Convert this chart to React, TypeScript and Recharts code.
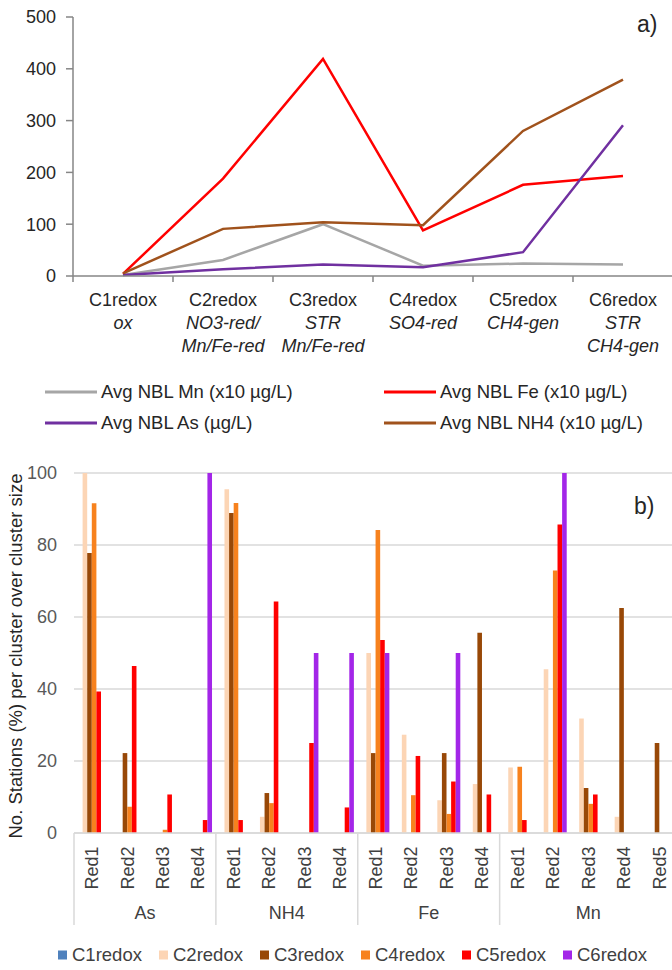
import React from 'react';
import { LineChart, Line, XAxis, YAxis, BarChart, Bar, CartesianGrid } from 'recharts';

const FONT = '"Liberation Sans", Arial, sans-serif';

// ---------- Panel a) data ----------
const clusters = ['C1redox', 'C2redox', 'C3redox', 'C4redox', 'C5redox', 'C6redox'];
const clusterSub = [['ox'], ['NO3-red/', 'Mn/Fe-red'], ['STR', 'Mn/Fe-red'], ['SO4-red'], ['CH4-gen'], ['STR', 'CH4-gen']];
const avgMn = [2, 31, 100, 20, 24, 22];
const avgFe = [4, 188, 419, 88, 176, 193];
const avgAs = [2, 13, 22, 17, 46, 291];
const avgNH4 = [5, 91, 104, 98, 280, 379];
const topTicks = [0, 100, 200, 300, 400, 500];

const lineNames = ['Avg NBL Mn (x10 µg/L)', 'Avg NBL Fe (x10 µg/L)', 'Avg NBL As (µg/L)', 'Avg NBL NH4 (x10 µg/L)'];
const lineKeys = ['mn', 'fe', 'as', 'nh4'];
const lineColors = ['#A6A6A6', '#FF0000', '#7030A0', '#A0521C'];

const topData = clusters.map((c, i) => ({ cluster: c, mn: avgMn[i], fe: avgFe[i], as: avgAs[i], nh4: avgNH4[i] }));

// ---------- Panel b) data ----------
const elements = ['As', 'NH4', 'Fe', 'Mn'];
const elementReds = [
  ['Red1', 'Red2', 'Red3', 'Red4'],
  ['Red1', 'Red2', 'Red3', 'Red4'],
  ['Red1', 'Red2', 'Red3', 'Red4'],
  ['Red1', 'Red2', 'Red3', 'Red4', 'Red5'],
];
const barSeries = ['C1redox', 'C2redox', 'C3redox', 'C4redox', 'C5redox', 'C6redox'];
const barColors = ['#4F81BD', '#FCD5B5', '#984807', '#F7821E', '#FF0000', '#A326E8'];
const c1redox = [0, 0, 0, 0, 0, 0, 0, 0, 0, 0, 0, 0, 0, 0, 0, 0, 0];
const c2redox = [100, 0, 0, 0, 95.5, 4.5, 0, 0, 50, 27.3, 9.1, 13.6, 18.2, 45.5, 31.8, 4.5, 0];
const c3redox = [77.8, 22.2, 0, 0, 88.9, 11.1, 0, 0, 22.2, 0, 22.2, 55.6, 0, 0, 12.5, 62.5, 25];
const c4redox = [91.6, 7.3, 0.9, 0, 91.7, 8.3, 0, 0, 84.2, 10.5, 5.3, 0, 18.4, 72.9, 8.1, 0, 0];
const c5redox = [39.3, 46.4, 10.7, 3.6, 3.6, 64.3, 25, 7.1, 53.6, 21.4, 14.3, 10.7, 3.6, 85.7, 10.7, 0, 0];
const c6redox = [0, 0, 0, 100, 0, 0, 50, 50, 50, 0, 50, 0, 0, 100, 0, 0, 0];
const barValues = [c1redox, c2redox, c3redox, c4redox, c5redox, c6redox];
const bottomTicks = [0, 20, 40, 60, 80, 100];

type Row = { [k: string]: any };
const barData: Row[] = [];
elements.forEach((el, g) => {
  elementReds[g].forEach((r, k) => {
    const idx = barData.length;
    const row: Row = { id: `${el}-${r}`, group: el, red: r, first: k === 0, size: elementReds[g].length };
    barSeries.forEach((s, si) => { row[s] = barValues[si][idx]; });
    barData.push(row);
  });
});

// ---------- layout ----------
const TOP_W = 690, TOP_H = 360, TOP_PLOT_L = 73, TOP_PLOT_R = 673, TOP_PLOT_T = 17, TOP_XAXIS_H = 84;
const TOP_BAND = (TOP_PLOT_R - TOP_PLOT_L) / clusters.length;

const BOT_TOP = 440, BOT_W = 690, BOT_H = 500, BOT_PLOT_L = 74, BOT_PLOT_R = 677, BOT_PLOT_T = 33, BOT_XAXIS_H = 107;
const BOT_BAND = (BOT_PLOT_R - BOT_PLOT_L) / barData.length;

const AXIS_DARK = '#868686';
const GRID = '#D9D9D9';

const TopTick = (props: any) => {
  const { x, y, payload } = props;
  const i = payload.index;
  const half = TOP_BAND / 2;
  return (
    <g fontFamily={FONT} fontSize={18} fill="#262626">
      <line x1={x - half} x2={x - half} y1={y} y2={y + 6} stroke={AXIS_DARK} strokeWidth={1.5} />
      {i === clusters.length - 1 && <line x1={x + half} x2={x + half} y1={y} y2={y + 6} stroke={AXIS_DARK} strokeWidth={1.5} />}
      <text x={x} y={y + 30} textAnchor="middle" fill="#262626">{clusters[i]}</text>
      {clusterSub[i].map((s, k) => (
        <text key={k} x={x} y={y + 53 + 23 * k} textAnchor="middle" fontStyle="italic" fill="#262626">{s}</text>
      ))}
    </g>
  );
};

const BottomTick = (props: any) => {
  const { x, y, payload } = props;
  const i = payload.index;
  const row = barData[i];
  if (!row) return null;
  const ty = y + 35;
  const left = x - BOT_BAND / 2;
  return (
    <g fontFamily={FONT} fontSize={18}>
      <text x={x} y={ty} dy="0.35em" textAnchor="middle" transform={`rotate(-90 ${x} ${ty})`} fill="#404040">{row.red}</text>
      {row.first && (
        <g>
          <line x1={left} x2={left} y1={y} y2={y + 92} stroke={GRID} strokeWidth={1.5} />
          <text x={left + (row.size * BOT_BAND) / 2} y={y + 86} textAnchor="middle" fill="#404040">{row.group}</text>
        </g>
      )}
      {i === barData.length - 1 && (
        <line x1={x + BOT_BAND / 2} x2={x + BOT_BAND / 2} y1={y} y2={y + 92} stroke={GRID} strokeWidth={1.5} />
      )}
    </g>
  );
};

const YTitle = (props: any) => {
  const cy = BOT_PLOT_T + (BOT_H - BOT_XAXIS_H - BOT_PLOT_T) / 2 + 3;
  const cx = 16;
  return (
    <text x={cx} y={cy} dy="0.35em" textAnchor="middle" transform={`rotate(-90 ${cx} ${cy})`}
      fontFamily={FONT} fontSize={18.5} fill="#262626">
      No. Stations (%) per cluster over cluster size
    </text>
  );
};

export default function App() {
  const legendRows = [[0, 1], [2, 3]];
  const legendColX = [45, 384];
  const legendRowY = [392, 423];
  return (
    <div style={{ position: 'absolute', left: 0, top: 0, width: 672, height: 970, overflow: 'hidden', background: '#fff', fontFamily: FONT }}>
      <div style={{ position: 'absolute', left: 0, top: 0 }}>
        <LineChart width={TOP_W} height={TOP_H} data={topData}
          margin={{ top: TOP_PLOT_T, right: TOP_W - TOP_PLOT_R, left: 0, bottom: 0 }}>
          <XAxis dataKey="cluster" height={TOP_XAXIS_H} padding={{ left: TOP_BAND / 2, right: TOP_BAND / 2 }}
            axisLine={{ stroke: AXIS_DARK, strokeWidth: 1.5 }} tickLine={false} tickSize={0} tickMargin={0}
            tick={<TopTick />} interval={0} />
          <YAxis width={TOP_PLOT_L} domain={[0, 500]} ticks={topTicks} interval={0}
            axisLine={{ stroke: AXIS_DARK, strokeWidth: 1.5 }} tickLine={{ stroke: AXIS_DARK, strokeWidth: 1.5 }}
            tickSize={7} tickMargin={10}
            tick={{ fontFamily: FONT, fontSize: 18, fill: '#262626' }} />
          {lineKeys.map((k, i) => (
            <Line key={k} dataKey={k} name={lineNames[i]} stroke={lineColors[i]} strokeWidth={2.5}
              dot={false} activeDot={false} type="linear" isAnimationActive={false} />
          ))}
        </LineChart>
      </div>

      <div style={{ position: 'absolute', left: 0, top: BOT_TOP }}>
        <BarChart width={BOT_W} height={BOT_H} data={barData}
          margin={{ top: BOT_PLOT_T, right: BOT_W - BOT_PLOT_R, left: 0, bottom: 0 }}
          barGap={0} barSize={4.6}>
          <CartesianGrid vertical={false} stroke={GRID} strokeWidth={1.5} />
          <XAxis dataKey="id" height={BOT_XAXIS_H} interval={0}
            axisLine={{ stroke: GRID, strokeWidth: 1.5 }} tickLine={false} tickSize={0} tickMargin={0}
            tick={<BottomTick />} />
          <YAxis width={BOT_PLOT_L} domain={[0, 100]} ticks={bottomTicks} interval={0}
            axisLine={false} tickLine={false} tickSize={0} tickMargin={17}
            tick={{ fontFamily: FONT, fontSize: 18, fill: '#595959' }} label={<YTitle />} />
          {barSeries.map((s, i) => (
            <Bar key={s} dataKey={s} name={s} fill={barColors[i]} isAnimationActive={false} />
          ))}
        </BarChart>
      </div>

      <svg width={672} height={970} style={{ position: 'absolute', left: 0, top: 0, pointerEvents: 'none' }}
        fontFamily={FONT}>
        <text x={637} y={32} fontSize={23} fill="#262626">a)</text>
        <text x={634} y={514} fontSize={23} fill="#262626">b)</text>
        {legendRows.map((row, r) => row.map((li, c) => (
          <g key={`${r}-${c}`}>
            <line x1={legendColX[c]} x2={legendColX[c] + 52} y1={legendRowY[r]} y2={legendRowY[r]}
              stroke={lineColors[li]} strokeWidth={3} />
            <text x={legendColX[c] + 56} y={legendRowY[r]} dy="0.35em" fontSize={18.5} fill="#262626">{lineNames[li]}</text>
          </g>
        )))}
        {barSeries.map((s, i) => {
          const x0 = 58 + i * 101;
          return (
            <g key={s}>
              <rect x={x0} y={950.5} width={9} height={9} fill={barColors[i]} />
              <text x={x0 + 14} y={955} dy="0.35em" fontSize={18.5} fill="#404040">{s}</text>
            </g>
          );
        })}
      </svg>
    </div>
  );
}
